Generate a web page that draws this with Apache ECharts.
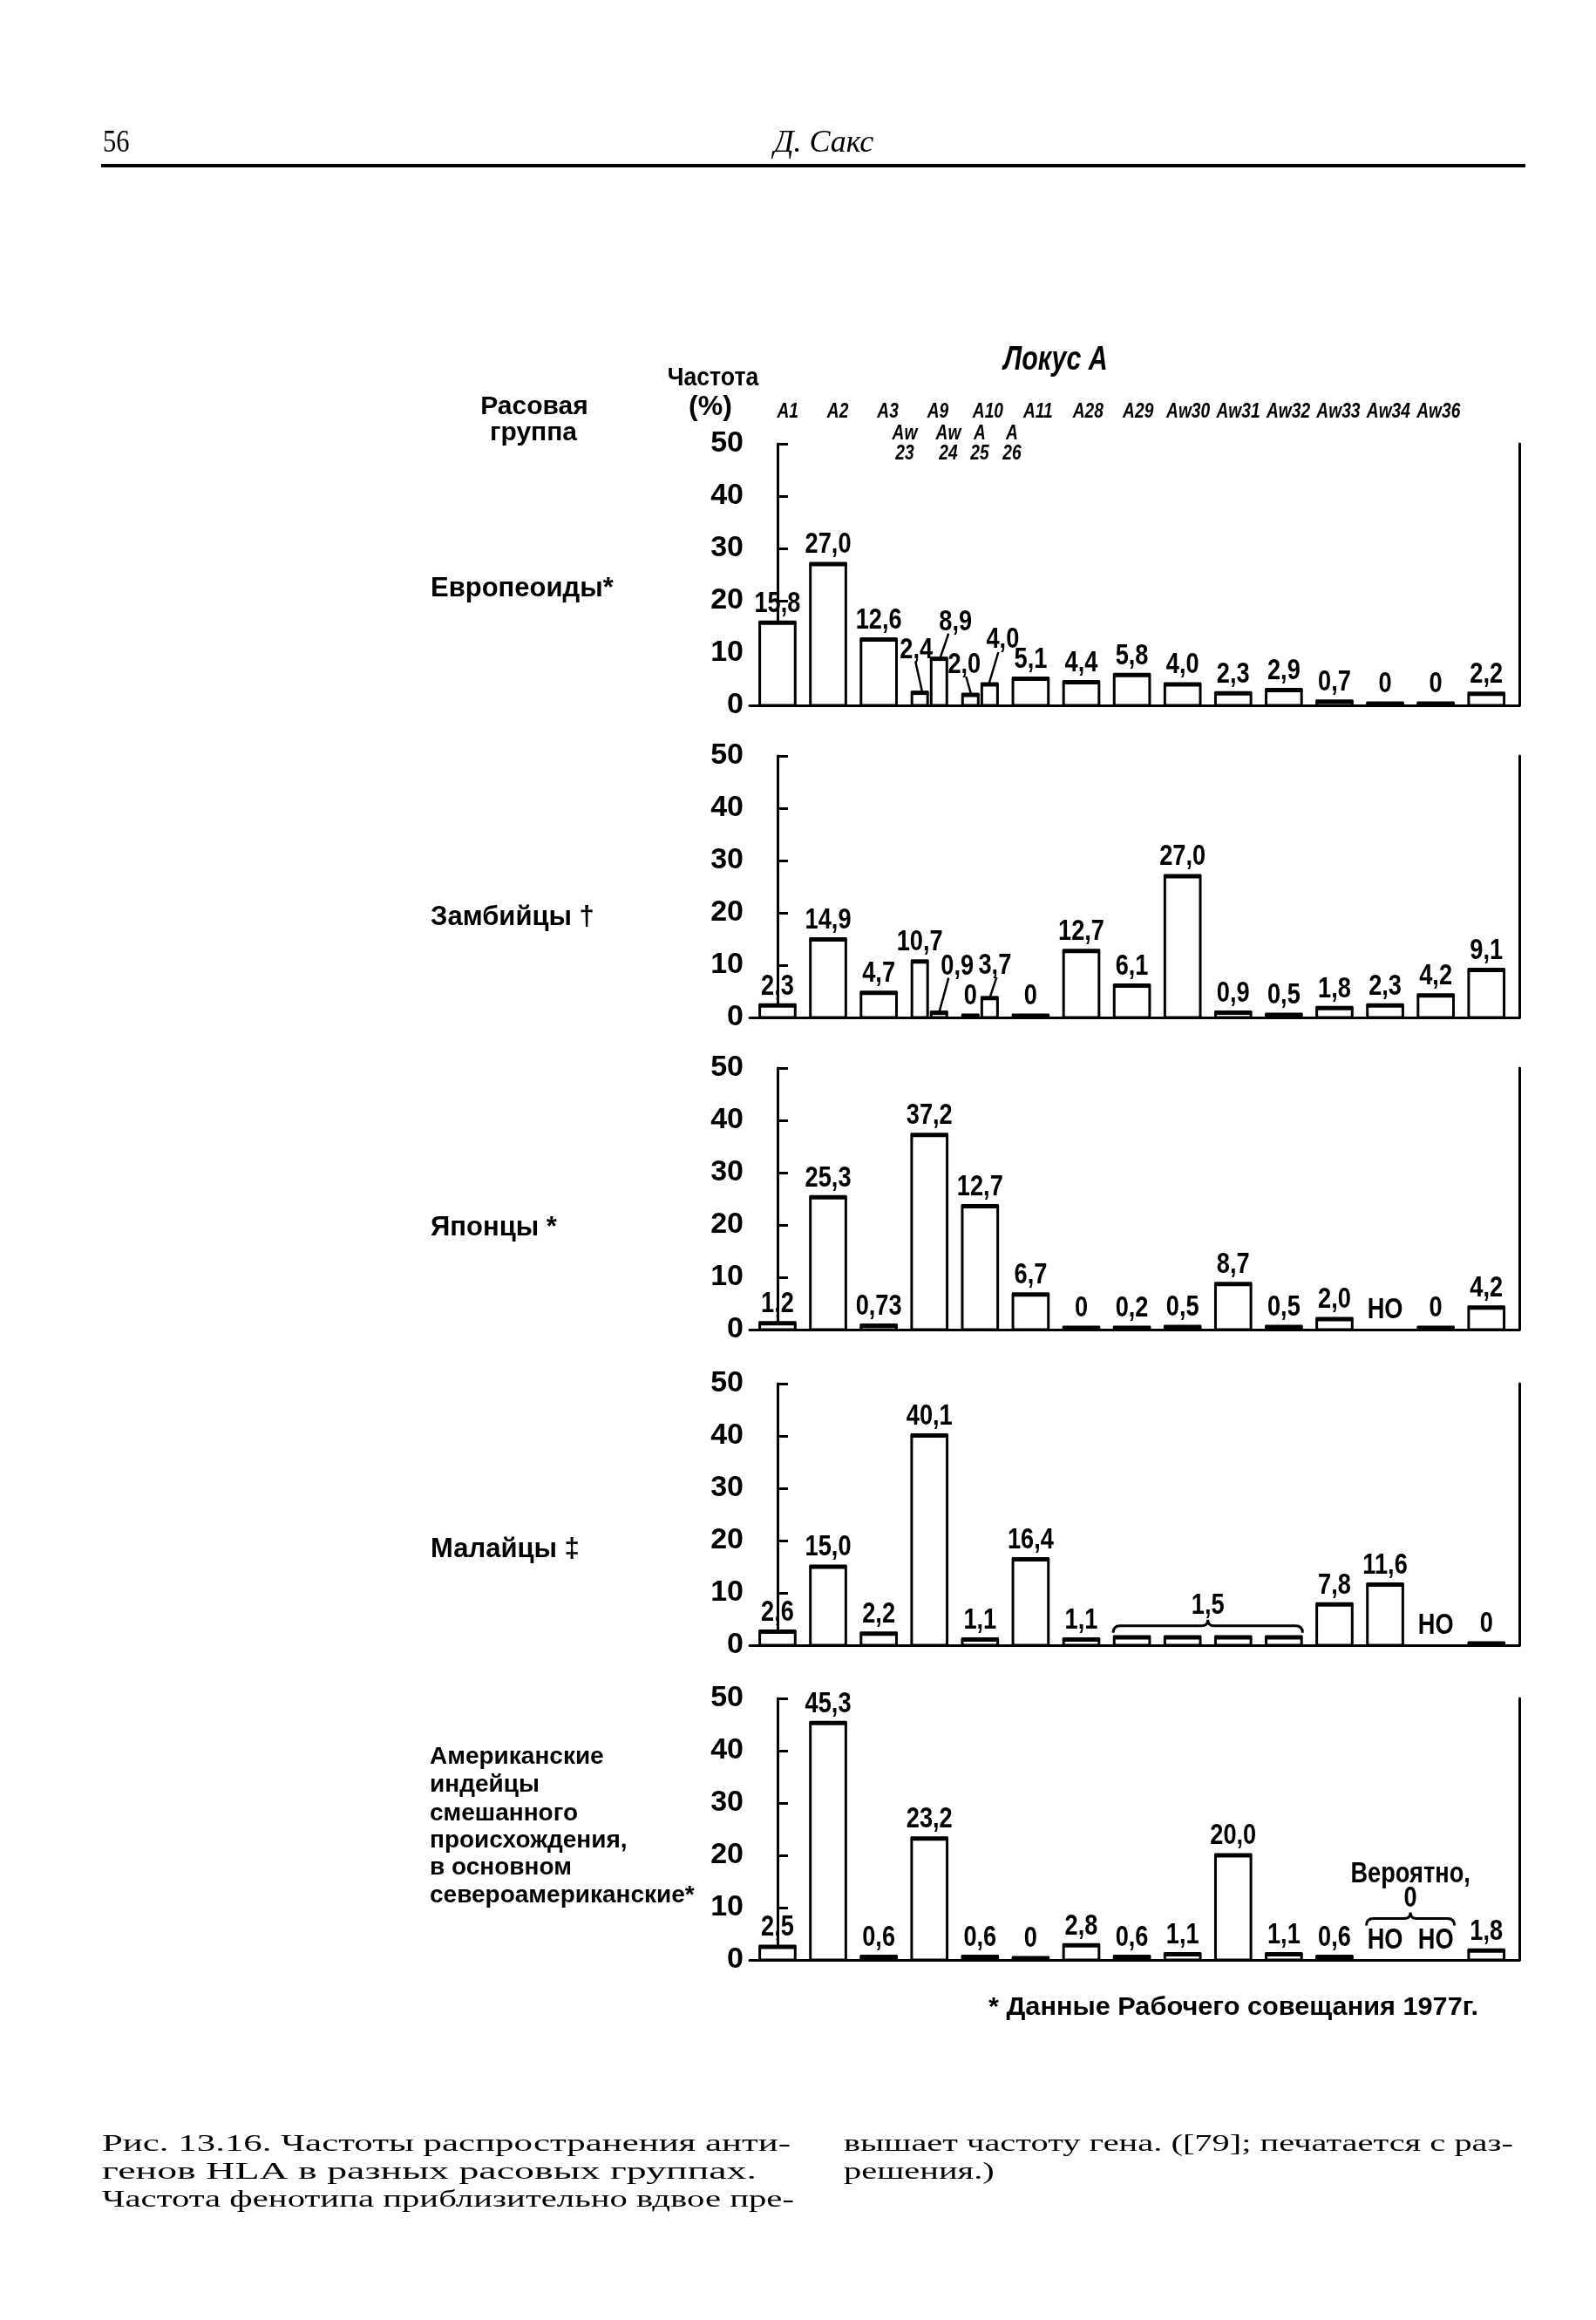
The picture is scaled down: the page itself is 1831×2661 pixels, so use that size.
<!DOCTYPE html>
<html><head><meta charset="utf-8">
<script src="https://cdn.jsdelivr.net/npm/echarts@6/dist/echarts.min.js"></script>
<style>html,body{margin:0;padding:0;background:#fff}#c{width:1831px;height:2661px}</style>
</head><body><div id="c"></div>
<script>
const SANS = '"Liberation Sans","DejaVu Sans",sans-serif';
const SERIF = '"Liberation Serif","DejaVu Serif",serif';
const NARROW_SX = 0.8;   // horizontal squeeze to imitate the condensed typeface

// ---------- data ----------
const locusHeaders = ['A1','A2','A3','A9','A10','A11','A28','A29','Aw30','Aw31','Aw32','Aw33','Aw34','Aw36'];
const splitSubHeaders = [['Aw','23'],['Aw','24'],['A','25'],['A','26']];
const groupNames = ['Европеоиды*','Замбийцы †','Японцы *','Малайцы ‡'];
const amerindianName = ['Американские','индейцы','смешанного','происхождения,','в основном','североамериканские*'];

// bar heights (split slots as [a,b]; null = not determined, no bar)
const europeanHeights = [15.8, 27.0, 12.6, [2.4, 8.9], [2.0, 4.0], 5.1, 4.4, 5.8, 4.0, 2.3, 2.9, 0.7, 0, 0, 2.2];
const europeanLabels  = ['15,8','27,0','12,6',['2,4','8,9'],['2,0','4,0'],'5,1','4,4','5,8','4,0','2,3','2,9','0,7','0','0','2,2'];

const zambianHeights = [2.3, 14.9, 4.7, [10.7, 0.9], [0, 3.7], 0, 12.7, 6.1, 27.0, 0.9, 0.5, 1.8, 2.3, 4.2, 9.1];
const zambianLabels  = ['2,3','14,9','4,7',['10,7','0,9'],['0','3,7'],'0','12,7','6,1','27,0','0,9','0,5','1,8','2,3','4,2','9,1'];

const japaneseHeights = [1.2, 25.3, 0.73, 37.2, 23.6, 6.7, 0, 0.2, 0.5, 8.7, 0.5, 2.0, null, 0, 4.2];
const japaneseLabels  = ['1,2','25,3','0,73','37,2','12,7','6,7','0','0,2','0,5','8,7','0,5','2,0','НО','0','4,2'];

const malayHeights = [2.6, 15.0, 2.2, 40.1, 1.1, 16.4, 1.1, 1.5, 1.5, 1.5, 1.5, 7.8, 11.6, null, 0];
const malayLabels  = ['2,6','15,0','2,2','40,1','1,1','16,4','1,1','','','','','7,8','11,6','НО','0'];
const malayBraces  = [[7, 10, 3.7]];
const malayBraceLabels = ['1,5'];

const amerindianHeights = [2.5, 45.3, 0.6, 23.2, 0.6, 0, 2.8, 0.6, 1.1, 20.0, 1.1, 0.6, null, null, 1.8];
const amerindianLabels  = ['2,5','45,3','0,6','23,2','0,6','0','2,8','0,6','1,1','20,0','1,1','0,6','НО','НО','1,8'];
const amerindianBraces  = [[12, 13, 7.9]];
const amerindianBraceLabels = ['Вероятно,\n0'];

const yTickValues = [0, 10, 20, 30, 40, 50];

const footnote = '* Данные Рабочего совещания 1977г.';
const captionLeft = ['Рис. 13.16. Частоты распространения анти-','генов HLA в разных расовых группах.','Частота фенотипа приблизительно вдвое пре-'];
const captionRight = ['вышает частоту гена. ([79]; печатается с раз-','решения.)'];

// ---------- layout ----------
const panelTops = [509, 867, 1225, 1587, 1948];
const PLOT_H = 300, PLOT_LEFT = 860, PLOT_W = 883;
const leaderLayout = {
  '0-3-0': {dx:-4, dy:-49, lx:-5, ly:-36, ex:3},
  '0-3-1': {dx:19, dy:-42, lx:11, ly:-29, ex:1},
  '0-4-0': {dx:-7, dy:-34, lx:-5, ly:-21, ex:1},
  '0-4-1': {dx:15, dy:-51, lx:10, ly:-37, ex:-1},
  '1-3-1': {dx:21, dy:-53, lx:11, ly:-40, ex:0},
  '1-4-1': {dx:6, dy:-37, lx:8, ly:-24, ex:0}
};
const VAL_FONT = 'bold 34px ' + SANS;

const panels = [
  {h: europeanHeights, l: europeanLabels},
  {h: zambianHeights, l: zambianLabels},
  {h: japaneseHeights, l: japaneseLabels},
  {h: malayHeights, l: malayLabels, braces: malayBraces, braceLabels: malayBraceLabels},
  {h: amerindianHeights, l: amerindianLabels, braces: amerindianBraces, braceLabels: amerindianBraceLabels}
];

function flatten(heights, labels) {
  const data = [], texts = [];
  heights.forEach((v, i) => {
    if (Array.isArray(v)) {
      v.forEach((sv, j) => { data.push([i, sv, j, v.length, 1]); texts.push(labels[i][j]); });
    } else {
      data.push([i, v == null ? 0 : v, 0, 1, v == null ? 0 : 1]); texts.push(labels[i]);
    }
  });
  return {data, texts};
}

function narrowText(text, x, y, font, align, vAlign, extra) {
  return {type:'text', x:x, y:y, scaleX:NARROW_SX,
    style:Object.assign({text:text, x:0, y:0, font:font, fill:'#000', align:align, verticalAlign:vAlign}, extra || {})};
}

function barRenderer(pi, texts) {
  return function (params, api) {
    const slot = api.value(0), h = api.value(1), sub = api.value(2), n = api.value(3), hasBar = api.value(4);
    const pitch = api.size([1, 0])[0];
    const base = api.coord([slot, 0]);
    const top = api.coord([slot, h]);
    let cx = base[0], w = pitch * 0.7;
    if (n > 1) { w = pitch * 0.31; cx += (sub === 0 ? -1 : 1) * pitch * 0.19; }
    const children = [];
    let ty = base[1];
    if (hasBar) {
      const hh = Math.max(base[1] - top[1], 2);
      ty = base[1] - hh;
      children.push({type:'rect', shape:{x:cx - w/2, y:ty, width:w, height:hh},
        style:{fill:'#fff', stroke:'#000', lineWidth:3}});
      children.push({type:'line', shape:{x1:cx - w/2 - 1, y1:ty, x2:cx + w/2 + 1, y2:ty},
        style:{stroke:'#000', lineWidth:5}});
    }
    const txt = texts[params.dataIndex];
    if (txt) {
      const ov = leaderLayout[pi + '-' + slot + '-' + sub];
      if (ov) {
        children.push(narrowText(txt, cx + ov.dx, ty + ov.dy, VAL_FONT, 'center', 'middle'));
        children.push({type:'line', shape:{x1:cx + ov.lx, y1:ty + ov.ly, x2:cx + ov.ex, y2:ty},
          style:{stroke:'#000', lineWidth:2.5}});
      } else {
        children.push(narrowText(txt, cx, ty - 5, VAL_FONT, 'center', 'bottom'));
      }
    }
    return {type:'group', children};
  };
}

function braceRenderer(labels) {
  return function (params, api) {
    const s = api.value(0), e = api.value(1), lv = api.value(2);
    const pitch = api.size([1, 0])[0];
    const p1 = api.coord([s, lv]), p2 = api.coord([e, lv]);
    const x1 = p1[0] - pitch * 0.37, x2 = p2[0] + pitch * 0.37, y = p1[1], xm = (x1 + x2) / 2;
    const d = `M${x1} ${y + 8} Q${x1} ${y} ${x1 + 8} ${y} L${xm - 7} ${y} Q${xm} ${y} ${xm} ${y - 7} Q${xm} ${y} ${xm + 7} ${y} L${x2 - 8} ${y} Q${x2} ${y} ${x2} ${y + 8}`;
    return {type:'group', children:[
      {type:'path', shape:{pathData:d}, style:{fill:'none', stroke:'#000', lineWidth:3}},
      narrowText(labels[params.dataIndex], xm, y - 9, VAL_FONT, 'center', 'bottom', {lineHeight:28})
    ]};
  };
}

function headerRenderer(params, api) {
  const p = api.coord([api.value(0), 0]);
  return narrowText(locusHeaders[params.dataIndex], p[0], p[1], 'bold italic 24px ' + SANS, 'center', 'middle');
}

const grids = [], xAxes = [], yAxes = [], series = [];
panels.forEach((p, i) => {
  grids.push({left:PLOT_LEFT, top:panelTops[i], width:PLOT_W, height:PLOT_H});
  xAxes.push({gridIndex:i, type:'value', min:-0.55, max:14.65,
    axisLine:{show:true, onZero:false, lineStyle:{color:'#000', width:3}},
    axisTick:{show:false}, axisLabel:{show:false}, splitLine:{show:false}});
  yAxes.push({gridIndex:i, type:'value', min:0, max:50, interval:10, position:'left',
    axisLine:{show:true, lineStyle:{color:'#000', width:3}},
    axisTick:{show:true, inside:true, length:12, lineStyle:{color:'#000', width:3}},
    axisLabel:{color:'#000', fontSize:34, fontWeight:'bold', fontFamily:SANS, margin:7,
      formatter: v => (yTickValues.indexOf(v) >= 0 ? String(v) : '')},
    splitLine:{show:false}});
  yAxes.push({gridIndex:i, type:'value', min:0, max:50, position:'right',
    axisLine:{show:true, lineStyle:{color:'#000', width:3}},
    axisTick:{show:false}, axisLabel:{show:false}, splitLine:{show:false}});
  const f = flatten(p.h, p.l);
  series.push({type:'custom', xAxisIndex:i, yAxisIndex:2 * i, clip:false, silent:true,
    renderItem: barRenderer(i, f.texts), data: f.data});
  if (p.braces) {
    series.push({type:'custom', xAxisIndex:i, yAxisIndex:2 * i, clip:false, silent:true,
      renderItem: braceRenderer(p.braceLabels), data: p.braces});
  }
});
// header row: locus names placed on their own category axis
grids.push({left:875, top:462, width:804, height:10});
xAxes.push({gridIndex:5, type:'category', data:locusHeaders, boundaryGap:true, show:false});
yAxes.push({gridIndex:5, type:'value', min:0, max:1, show:false});
series.push({type:'custom', xAxisIndex:5, yAxisIndex:10, clip:false, silent:true,
  renderItem: headerRenderer, data: locusHeaders.map((_, i) => [i, 0])});

// ---------- text helpers ----------
const mctx = document.createElement('canvas').getContext('2d');
function measure(text, font) { mctx.font = font; return mctx.measureText(text).width; }
function T(text, x, y, font, opts) {
  opts = opts || {};
  let sx = opts.scaleX || 1;
  if (opts.width) sx = opts.width / measure(text, font);
  return {type:'text', x:x, y:y, scaleX:sx, silent:true,
    style:{text:text, x:0, y:0, font:font, fill:'#000', align:opts.align || 'left', verticalAlign:'middle'}};
}
const graphics = [];
graphics.push(T('56', 118, 165, '36px ' + SERIF, {scaleX:0.85}));
graphics.push(T('Д. Сакс', 945, 165, 'italic 36px ' + SERIF, {align:'center'}));
graphics.push({type:'line', silent:true, shape:{x1:116, y1:190, x2:1750, y2:190}, style:{stroke:'#000', lineWidth:4}});
graphics.push(T('Локус A', 1211, 414, 'bold italic 38px ' + SANS, {align:'center', scaleX:NARROW_SX}));
graphics.push(T('Частота', 818, 434, 'bold 29px ' + SANS, {align:'center', scaleX:0.92}));
graphics.push(T('(%)', 815, 467, 'bold 32px ' + SANS, {align:'center'}));
graphics.push(T('Расовая', 613, 467, 'bold 30px ' + SANS, {align:'center'}));
graphics.push(T('группа', 612, 497, 'bold 30px ' + SANS, {align:'center'}));
const subX = [1038, 1088, 1124, 1161];
splitSubHeaders.forEach((s, k) => {
  graphics.push(T(s[0], subX[k], 497, 'bold italic 24px ' + SANS, {align:'center', scaleX:NARROW_SX}));
  graphics.push(T(s[1], subX[k], 520, 'bold italic 24px ' + SANS, {align:'center', scaleX:NARROW_SX}));
});
const groupY = [675, 1052, 1408, 1777];
groupNames.forEach((g, k) => graphics.push(T(g, 494, groupY[k], 'bold 31px ' + SANS)));
const amerY = [2015, 2047, 2080, 2111, 2142, 2174];
amerindianName.forEach((g, k) => graphics.push(T(g, 493, amerY[k], 'bold 28px ' + SANS)));
graphics.push(T(footnote, 1134, 2303, 'bold 30px ' + SANS, {width:562}));
const capFont = '27px ' + SERIF;
const capLW = [790, 751, 794];
captionLeft.forEach((c, k) => graphics.push(T(c, 117, 2460 + 32 * k, capFont, {width:capLW[k]})));
const capRScale = 768 / measure(captionRight[0], capFont);
captionRight.forEach((c, k) => graphics.push(T(c, 968, 2460 + 32 * k, capFont, {scaleX:capRScale})));

const chart = echarts.init(document.getElementById('c'), null, {renderer:'canvas', width:1831, height:2661});
chart.setOption({
  backgroundColor:'#fff', animation:false,
  grid:grids, xAxis:xAxes, yAxis:yAxes, series:series, graphic:graphics
});
</script></body></html>
